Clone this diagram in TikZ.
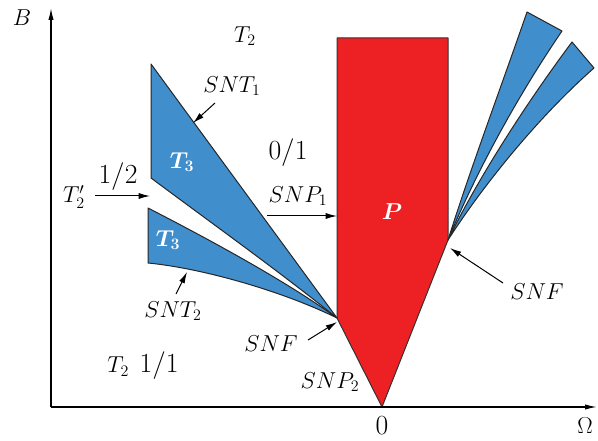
\documentclass[tikz,border=0pt]{standalone}
\usepackage{bm}
\usetikzlibrary{arrows.meta}

\definecolor{tongueblue}{RGB}{64,142,204}
\definecolor{regionred}{RGB}{237,32,36}

\tikzset{every picture/.style={line width=0.75pt}}
\tikzset{
  lbl/.style={inner sep=0.75pt, font=\fontsize{18}{20}\selectfont},
  numlbl/.style={inner sep=0.75pt, font=\fontsize{21.5}{24}\selectfont},
  wlbl/.style={lbl, text=white},
  ptr/.style={-{Latex[length=8.5pt,width=4.5pt]}, line width=0.75pt},
  axis/.style={-{Latex[length=9pt,width=4pt]}, line width=1pt},
  tongue/.style={fill=tongueblue, draw=black!85, line width=0.75pt, line join=round},
}

\begin{document}
\begin{tikzpicture}[x=0.75pt,y=0.75pt,yscale=-1,xscale=1]
\useasboundingbox (0,0) rectangle (598,441);

%Points
\coordinate (origin) at (51,407);
\coordinate (btop) at (51,8);
\coordinate (oend) at (597,407);
\coordinate (apexl) at (337,318);
\coordinate (apexr) at (448,240);

%Shape: Polygon (red region P)
\draw [fill=regionred, draw=black!80, line join=round] (382,407) -- (apexl) -- (337,38) -- (448,38) -- (apexr) -- cycle;

%Shape: upper left tongue
\draw [tongue] (151,64) -- (151,178) .. controls (210,222) and (280,272) .. (apexl) -- cycle;
%Shape: lower left tongue
\draw [tongue] (148,208) -- (148,263) .. controls (200,268) and (280,290) .. (apexl) .. controls (290,284) and (220,245) .. cycle;

%Shape: upper right tongue
\draw [tongue] (apexr) .. controls (470,170) and (500,90) .. (527,12) -- (562,31) .. controls (515,100) and (475,175) .. (apexr) -- cycle;
%Shape: lower right tongue
\draw [tongue] (apexr) .. controls (477,180) and (525,105) .. (572,42) -- (594,68) .. controls (535,120) and (480,190) .. (apexr) -- cycle;

%Axes
\draw [axis] (origin) -- (btop);
\draw [axis] (origin) -- (oend);

% Text Node
\node [lbl] (blab) at (22,18) {$B$};
% Text Node
\node [lbl] (omlab) at (585,426) {$\Omega$};
% Text Node
\node [numlbl] (zero) at (382,426) {$0$};
% Text Node
\node [lbl] (t2top) at (245,36) {$T_2$};
% Text Node
\node [lbl] (snt1) at (232,86) {$SNT_1$};
% Text Node
\node [wlbl] (t3up) at (182,162) {$\bm{T_3}$};
% Text Node
\node [wlbl] (t3low) at (168,240) {$\bm{T_3}$};
% Text Node
\node [numlbl] (zeroone) at (288,153) {$0/1$};
% Text Node
\node [lbl] (snp1) at (298,196) {$SNP_1$};
% Text Node
\node [lbl] (snt2) at (173,311) {$SNT_2$};
% Text Node
\node [lbl] (snfl) at (271,344) {$SNF$};
% Text Node
\node [lbl] (snp2) at (330,382) {$SNP_2$};
% Text Node
\node [lbl] (snfr) at (537,292) {$SNF$};
% Text Node
\node [lbl] (t2prime) at (74,197) {$T_2'$};
% Text Node
\node [numlbl] (half) at (118,177) {$1/2$};
% Text Node
\node [lbl] (t2one) at (143,366) {$T_2$\;\,{\fontsize{21.5}{24}\selectfont$1/1$}};
% Text Node
\node [wlbl] (plab) at (392,212) {$\bm{P}$};

%Arrows
\coordinate (snt1 from) at (215,103);
\coordinate (snt1 to) at (193,123);
\coordinate (snt2 from) at (176,294);
\coordinate (snt2 to) at (187,272);
\coordinate (half from) at (95,196);
\coordinate (half to) at (150,196);
\coordinate (snp1 from) at (267,216);
\coordinate (snp1 to) at (337,216);
\coordinate (snfl from) at (308,340);
\coordinate (snfl to) at (337,322);
\coordinate (snfr from) at (503,283);
\coordinate (snfr to) at (450,248);
\draw [ptr] (snt1 from) -- (snt1 to);
\draw [ptr] (snt2 from) -- (snt2 to);
\draw [ptr] (half from) -- (half to);
\draw [ptr] (snp1 from) -- (snp1 to);
\draw [ptr] (snfl from) -- (snfl to);
\draw [ptr] (snfr from) -- (snfr to);

\end{tikzpicture}
\end{document}
